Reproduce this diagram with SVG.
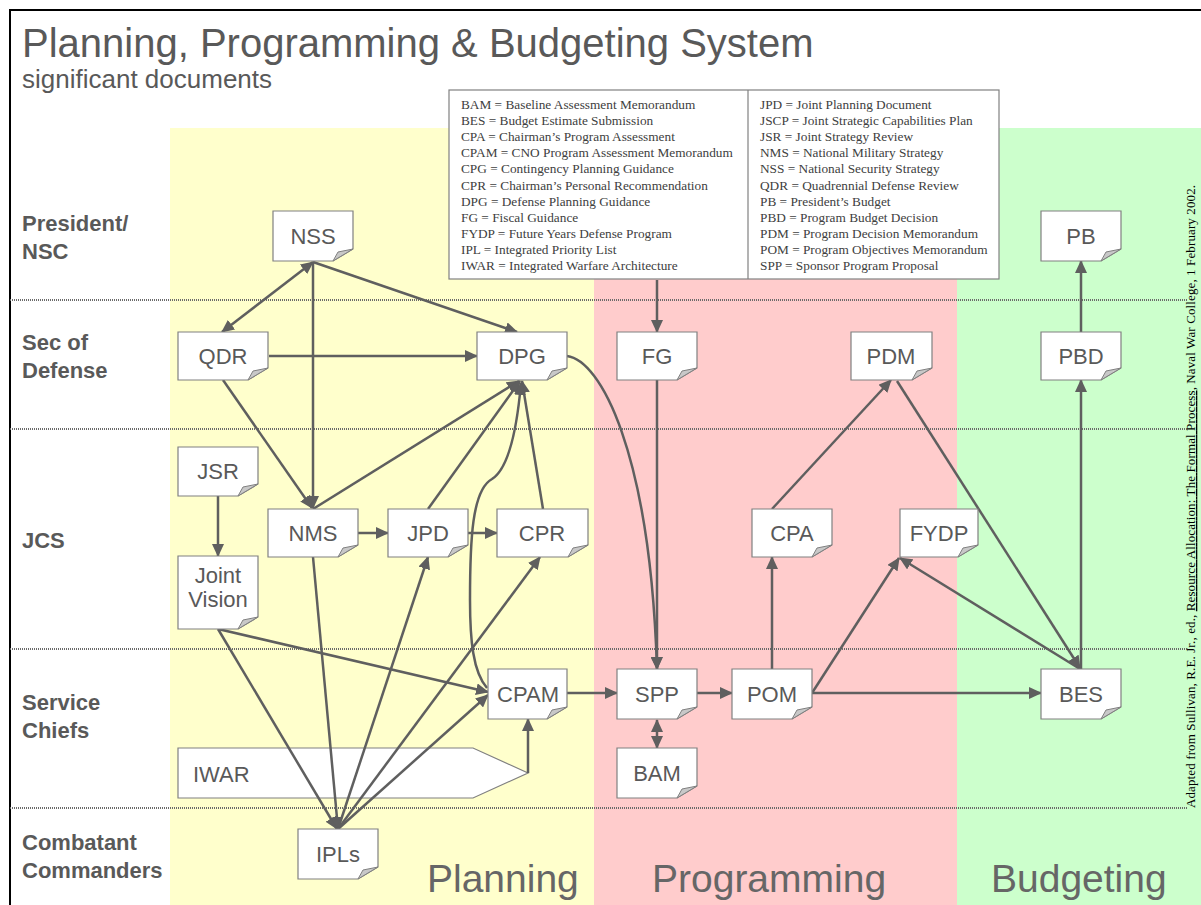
<svg xmlns="http://www.w3.org/2000/svg" width="1201" height="905" viewBox="0 0 1201 905">
  <style>
    .node path.doc { fill: #ffffff; stroke: #808080; stroke-width: 1.2; }
    .node path.fold { fill: #c8c8c8; stroke: #808080; stroke-width: 1; }
    .node text { font-family: "Liberation Sans", Arial, sans-serif; font-size: 22px; fill: #595959; text-anchor: middle; }
    .row { font-family: "Liberation Sans", Arial, sans-serif; font-size: 22px; font-weight: bold; fill: #595959; }
    .phase { font-family: "Liberation Sans", Arial, sans-serif; font-size: 39px; fill: #666666; }
    .legend { font-family: "Liberation Serif", "Times New Roman", serif; font-size: 13.3px; fill: #404040; }
    .sep { stroke: #6a6a6a; stroke-width: 2; stroke-dasharray: 1 1; fill: none; }
    .edge { stroke: #5f5f5f; stroke-width: 2.5; fill: none; }
    .arrow { marker-end: url(#ah); }
    .both { marker-start: url(#ah); marker-end: url(#ah); }
  </style>
  <defs>
    <marker id="ah" markerUnits="userSpaceOnUse" markerWidth="13" markerHeight="12" refX="12" refY="6" orient="auto-start-reverse">
      <path d="M0,0 L13,6 L0,12 Z" fill="#5f5f5f"/>
    </marker>
  </defs>

  <!-- page -->
  <rect x="0" y="0" width="1201" height="905" fill="#ffffff"/>
  <!-- phase bands -->
  <rect x="170" y="128" width="424" height="777" fill="#ffffcc"/>
  <rect x="594" y="128" width="363" height="777" fill="#ffcccc"/>
  <rect x="957" y="128" width="244" height="777" fill="#ccffcc"/>
  <!-- frame -->
  <path d="M10,905 V10 H1201" fill="none" stroke="#000000" stroke-width="2"/>

  <!-- swimlane separators -->
  <g id="separators">
    <line class="sep" x1="10" y1="300" x2="1188" y2="300"/>
    <line class="sep" x1="10" y1="429" x2="1188" y2="429"/>
    <line class="sep" x1="10" y1="649" x2="1188" y2="649"/>
    <line class="sep" x1="10" y1="808" x2="1188" y2="808"/>
  </g>

  <!-- title -->
  <text x="22" y="57" font-family="'Liberation Sans', Arial, sans-serif" font-size="40" fill="#595959">Planning, Programming &amp; Budgeting System</text>
  <text x="22" y="88" font-family="'Liberation Sans', Arial, sans-serif" font-size="26" fill="#595959">significant documents</text>

  <!-- lane labels -->
  <g id="lanes">
    <text class="row" x="22" y="231">President/</text>
    <text class="row" x="22" y="259">NSC</text>
    <text class="row" x="22" y="350">Sec of</text>
    <text class="row" x="22" y="378">Defense</text>
    <text class="row" x="22" y="548">JCS</text>
    <text class="row" x="22" y="710">Service</text>
    <text class="row" x="22" y="738">Chiefs</text>
    <text class="row" x="22" y="850">Combatant</text>
    <text class="row" x="22" y="878">Commanders</text>
  </g>

  <!-- phase labels -->
  <text class="phase" x="427" y="892">Planning</text>
  <text class="phase" x="652" y="892">Programming</text>
  <text class="phase" x="991" y="892">Budgeting</text>

  <!-- glossary -->
  <g id="legend">
    <rect x="449" y="90" width="550" height="189" fill="#ffffff" stroke="#808080" stroke-width="1.2"/>
    <line x1="748" y1="90" x2="748" y2="279" stroke="#808080" stroke-width="1.2"/>
    <g class="legend">
      <text x="461" y="109">BAM = Baseline Assessment Memorandum</text>
      <text x="461" y="125">BES = Budget Estimate Submission</text>
      <text x="461" y="141">CPA = Chairman’s Program Assessment</text>
      <text x="461" y="157">CPAM = CNO Program Assessment Memorandum</text>
      <text x="461" y="173">CPG = Contingency Planning Guidance</text>
      <text x="461" y="190">CPR = Chairman’s Personal Recommendation</text>
      <text x="461" y="206">DPG = Defense Planning Guidance</text>
      <text x="461" y="222">FG = Fiscal Guidance</text>
      <text x="461" y="238">FYDP = Future Years Defense Program</text>
      <text x="461" y="254">IPL = Integrated Priority List</text>
      <text x="461" y="270">IWAR = Integrated Warfare Architecture</text>
      <text x="760" y="109">JPD = Joint Planning Document</text>
      <text x="760" y="125">JSCP = Joint Strategic Capabilities Plan</text>
      <text x="760" y="141">JSR = Joint Strategy Review</text>
      <text x="760" y="157">NMS = National Military Strategy</text>
      <text x="760" y="173">NSS = National Security Strategy</text>
      <text x="760" y="190">QDR = Quadrennial Defense Review</text>
      <text x="760" y="206">PB = President’s Budget</text>
      <text x="760" y="222">PBD = Program Budget Decision</text>
      <text x="760" y="238">PDM = Program Decision Memorandum</text>
      <text x="760" y="254">POM = Program Objectives Memorandum</text>
      <text x="760" y="270">SPP = Sponsor Program Proposal</text>
    </g>
  </g>

  <!-- architecture banner sits beneath the connectors -->
  <g id="node-iwar" class="node">
    <path class="doc" d="M178,748 H473 L528,773 L473,798 H178 Z"/>
    <text x="193" y="782" style="text-anchor:start">IWAR</text>
  </g>

  <!-- connectors -->
  <g id="connectors">
    <line class="edge both" x1="313" y1="262" x2="222" y2="332"/>
    <line class="edge arrow" x1="313" y1="262" x2="313" y2="508"/>
    <line class="edge arrow" x1="313" y1="262" x2="517" y2="332"/>
    <line class="edge arrow" x1="269" y1="356" x2="477" y2="356"/>
    <line class="edge arrow" x1="223" y1="380" x2="312" y2="508"/>
    <line class="edge arrow" x1="313" y1="509" x2="519" y2="381"/>
    <line class="edge arrow" x1="428" y1="509" x2="520" y2="381"/>
    <line class="edge arrow" x1="543" y1="509" x2="522" y2="381"/>
    <path class="edge arrow" d="M487,688 C473,672 470,640 470,600 C470,540 472,490 492,479 C506,470 516,440 521,383"/>
    <line class="edge arrow" x1="358" y1="533" x2="388" y2="533"/>
    <line class="edge arrow" x1="468" y1="533" x2="497" y2="533"/>
    <line class="edge arrow" x1="218" y1="496" x2="218" y2="556"/>
    <line class="edge arrow" x1="218" y1="629" x2="488" y2="692"/>
    <line class="edge arrow" x1="218" y1="629" x2="337" y2="829"/>
    <line class="edge arrow" x1="313" y1="557" x2="338" y2="829"/>
    <line class="edge arrow" x1="338" y1="829" x2="428" y2="557"/>
    <line class="edge arrow" x1="338" y1="829" x2="540" y2="557"/>
    <line class="edge arrow" x1="338" y1="829" x2="488" y2="695"/>
    <polyline class="edge arrow" points="528,773 528,719"/>
    <path class="edge arrow" d="M567,356 C600,360 650,450 657,669"/>
    <line class="edge arrow" x1="657" y1="280" x2="657" y2="332"/>
    <line class="edge arrow" x1="657" y1="380" x2="657" y2="669"/>
    <line class="edge arrow" x1="567" y1="693" x2="617" y2="693"/>
    <line class="edge both" x1="657" y1="720" x2="657" y2="748"/>
    <line class="edge arrow" x1="697" y1="693" x2="732" y2="693"/>
    <line class="edge arrow" x1="772" y1="669" x2="772" y2="557"/>
    <line class="edge arrow" x1="772" y1="509" x2="891" y2="380"/>
    <line class="edge arrow" x1="812" y1="693" x2="899" y2="558"/>
    <line class="edge arrow" x1="812" y1="693" x2="1041" y2="693"/>
    <line class="edge arrow" x1="1080" y1="669" x2="900" y2="558"/>
    <line class="edge arrow" x1="897" y1="381" x2="1080" y2="668"/>
    <line class="edge arrow" x1="1081" y1="669" x2="1081" y2="380"/>
    <line class="edge arrow" x1="1081" y1="332" x2="1081" y2="261"/>
  </g>

  <!-- documents -->
  <g id="node-nss" class="node">
    <path class="doc" d="M273,211 H353 V249 L333,261 H273 Z"/>
    <path class="fold" d="M333,261 L338,252 L353,249 Z"/>
    <text x="313" y="244">NSS</text>
  </g>
  <g id="node-qdr" class="node">
    <path class="doc" d="M178,332 H268 V368 L248,380 H178 Z"/>
    <path class="fold" d="M248,380 L253,371 L268,368 Z"/>
    <text x="223" y="364">QDR</text>
  </g>
  <g id="node-dpg" class="node">
    <path class="doc" d="M477,332 H567 V368 L547,380 H477 Z"/>
    <path class="fold" d="M547,380 L552,371 L567,368 Z"/>
    <text x="522" y="364">DPG</text>
  </g>
  <g id="node-fg" class="node">
    <path class="doc" d="M617,332 H697 V368 L677,380 H617 Z"/>
    <path class="fold" d="M677,380 L682,371 L697,368 Z"/>
    <text x="657" y="364">FG</text>
  </g>
  <g id="node-pdm" class="node">
    <path class="doc" d="M851,332 H932 V368 L912,380 H851 Z"/>
    <path class="fold" d="M912,380 L917,371 L932,368 Z"/>
    <text x="891" y="364">PDM</text>
  </g>
  <g id="node-pb" class="node">
    <path class="doc" d="M1041,211 H1121 V249 L1101,261 H1041 Z"/>
    <path class="fold" d="M1101,261 L1106,252 L1121,249 Z"/>
    <text x="1081" y="244">PB</text>
  </g>
  <g id="node-pbd" class="node">
    <path class="doc" d="M1041,332 H1121 V368 L1101,380 H1041 Z"/>
    <path class="fold" d="M1101,380 L1106,371 L1121,368 Z"/>
    <text x="1081" y="364">PBD</text>
  </g>
  <g id="node-jsr" class="node">
    <path class="doc" d="M178,447 H258 V484 L238,496 H178 Z"/>
    <path class="fold" d="M238,496 L243,487 L258,484 Z"/>
    <text x="218" y="479">JSR</text>
  </g>
  <g id="node-joint-vision" class="node">
    <path class="doc" d="M178,556 H258 V617 L238,629 H178 Z"/>
    <path class="fold" d="M238,629 L243,620 L258,617 Z"/>
    <text x="218" y="583">Joint</text>
    <text x="218" y="607">Vision</text>
  </g>
  <g id="node-nms" class="node">
    <path class="doc" d="M268,509 H358 V545 L338,557 H268 Z"/>
    <path class="fold" d="M338,557 L343,548 L358,545 Z"/>
    <text x="313" y="541">NMS</text>
  </g>
  <g id="node-jpd" class="node">
    <path class="doc" d="M388,509 H468 V545 L448,557 H388 Z"/>
    <path class="fold" d="M448,557 L453,548 L468,545 Z"/>
    <text x="428" y="541">JPD</text>
  </g>
  <g id="node-cpr" class="node">
    <path class="doc" d="M497,509 H588 V545 L568,557 H497 Z"/>
    <path class="fold" d="M568,557 L573,548 L588,545 Z"/>
    <text x="542" y="541">CPR</text>
  </g>
  <g id="node-cpa" class="node">
    <path class="doc" d="M752,509 H832 V545 L812,557 H752 Z"/>
    <path class="fold" d="M812,557 L817,548 L832,545 Z"/>
    <text x="792" y="541">CPA</text>
  </g>
  <g id="node-fydp" class="node">
    <path class="doc" d="M900,509 H978 V545 L958,557 H900 Z"/>
    <path class="fold" d="M958,557 L963,548 L978,545 Z"/>
    <text x="939" y="541">FYDP</text>
  </g>
  <g id="node-cpam" class="node">
    <path class="doc" d="M488,669 H567 V707 L547,719 H488 Z"/>
    <path class="fold" d="M547,719 L552,710 L567,707 Z"/>
    <text x="528" y="702">CPAM</text>
  </g>
  <g id="node-spp" class="node">
    <path class="doc" d="M617,669 H697 V707 L677,719 H617 Z"/>
    <path class="fold" d="M677,719 L682,710 L697,707 Z"/>
    <text x="657" y="702">SPP</text>
  </g>
  <g id="node-pom" class="node">
    <path class="doc" d="M732,669 H812 V707 L792,719 H732 Z"/>
    <path class="fold" d="M792,719 L797,710 L812,707 Z"/>
    <text x="772" y="702">POM</text>
  </g>
  <g id="node-bes" class="node">
    <path class="doc" d="M1041,669 H1121 V707 L1101,719 H1041 Z"/>
    <path class="fold" d="M1101,719 L1106,710 L1121,707 Z"/>
    <text x="1081" y="702">BES</text>
  </g>
  <g id="node-bam" class="node">
    <path class="doc" d="M617,748 H697 V786 L677,798 H617 Z"/>
    <path class="fold" d="M677,798 L682,789 L697,786 Z"/>
    <text x="657" y="781">BAM</text>
  </g>
  <g id="node-ipls" class="node">
    <path class="doc" d="M298,829 H378 V867 L358,879 H298 Z"/>
    <path class="fold" d="M358,879 L363,870 L378,867 Z"/>
    <text x="338" y="862">IPLs</text>
  </g>

  <!-- source note -->
  <text transform="translate(1195,808) rotate(-90)" font-family="'Liberation Serif', 'Times New Roman', serif" font-size="13" fill="#000000" textLength="623" lengthAdjust="spacing">Adapted from Sullivan, R.E. Jr., ed., <tspan text-decoration="underline">Resource Allocation: The Formal Process</tspan>, Naval War College, 1 February 2002.</text>
</svg>
